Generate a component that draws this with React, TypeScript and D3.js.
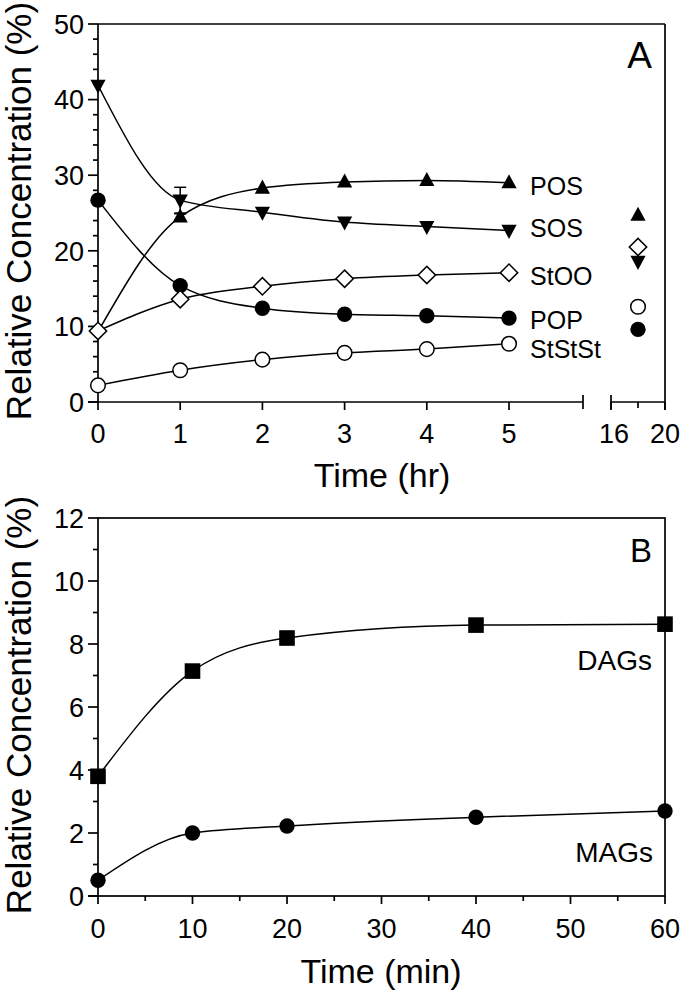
import React from "react";
import * as d3 from "d3";

// ---------- Data: Panel A (Time in hr) ----------
const hoursA = [0, 1, 2, 3, 4, 5];
const seriesNamesA = ["POS", "SOS", "StOO", "POP", "StStSt"];
const posVals = [9.3, 24.5, 28.3, 29.1, 29.3, 29.0];
const sosVals = [41.9, 26.7, 25.1, 23.8, 23.2, 22.7];
const stooVals = [9.4, 13.6, 15.3, 16.3, 16.8, 17.1];
const popVals = [26.7, 15.4, 12.4, 11.6, 11.4, 11.1];
const stststVals = [2.2, 4.2, 5.6, 6.5, 7.0, 7.7];
// error bars at 1 hr
const errHour = 1;
const posErr = 0.4;
const sosErr = 1.7;
// late sample (18 hr)
const lateHour = 18;
const lateVals = [24.7, 18.6, 20.5, 9.6, 12.6]; // POS, SOS, StOO, POP, StStSt
// series label anchors (value units)
const labelValsA = [27.4, 21.8, 15.5, 9.7, 5.8];

const yTicksA = [0, 10, 20, 30, 40, 50];
const yMinorA = [2, 4, 6, 8, 12, 14, 16, 18, 22, 24, 26, 28, 32, 34, 36, 38, 42, 44, 46, 48];
const xTicksA = [0, 1, 2, 3, 4, 5];
const xTicksA2 = [16, 20];
const xMinorA2 = [18];

// ---------- Data: Panel B (Time in min) ----------
const minutesB = [0, 10, 20, 40, 60];
const dagVals = [3.8, 7.14, 8.19, 8.6, 8.63];
const magVals = [0.5, 2.0, 2.22, 2.5, 2.7];
const labelValsB = [7.17, 1.08]; // DAGs, MAGs
const yTicksB = [0, 2, 4, 6, 8, 10, 12];
const yMinorB = [1, 3, 5, 7, 9, 11];
const xTicksB = [0, 10, 20, 30, 40, 50, 60];
const xMinorB = [5, 15, 25, 35, 45, 55];

const FONT = "'Liberation Sans', Arial, Helvetica, sans-serif";
const SW = 1.7;

// ---------- Layout ----------
const L = 98, R = 665;
const topA = 24, botA = 402;
const topB = 518, botB = 896;
const breakL = 583, breakR = 611;

const xA = d3.scaleLinear().domain([0, 5.9]).range([L, breakL]);
const xA2 = d3.scaleLinear().domain([16, 20]).range([breakR, R]);
const yA = d3.scaleLinear().domain([0, 50]).range([botA, topA]);
const xB = d3.scaleLinear().domain([0, 60]).range([L, R]);
const yB = d3.scaleLinear().domain([0, 12]).range([botB, topB]);

type MarkerKind = "up" | "down" | "diamond" | "circleFill" | "circleOpen" | "square";

const diamondPath = d3.symbol().type(d3.symbolSquare).size(150)() as string;

function Marker({ kind, x, y }: { kind: MarkerKind; x: number; y: number }) {
  const t = `translate(${x},${y})`;
  if (kind === "up") {
    return <path transform={t} d="M0,-8.5 L7.6,5.6 L-7.6,5.6 Z" fill="#000" />;
  }
  if (kind === "down") {
    return <path transform={t} d="M0,8.5 L7.6,-5.6 L-7.6,-5.6 Z" fill="#000" />;
  }
  if (kind === "diamond") {
    return (
      <path
        transform={`${t} rotate(45)`}
        d={diamondPath}
        fill="#fff"
        stroke="#000"
        strokeWidth={1.5}
      />
    );
  }
  if (kind === "circleFill") {
    return <circle cx={x} cy={y} r={7.7} fill="#000" />;
  }
  if (kind === "circleOpen") {
    return <circle cx={x} cy={y} r={7.3} fill="#fff" stroke="#000" strokeWidth={1.5} />;
  }
  return <rect x={x - 7.8} y={y - 7.8} width={15.6} height={15.6} fill="#000" />;
}

const kindsA: MarkerKind[] = ["up", "down", "diamond", "circleFill", "circleOpen"];
const valsA = [posVals, sosVals, stooVals, popVals, stststVals];

export default function App() {
  const lineA = d3
    .line<number>()
    .x((_, i) => xA(hoursA[i]))
    .y((d) => yA(d))
    .curve(d3.curveMonotoneX);
  const lineB = d3
    .line<number>()
    .x((_, i) => xB(minutesB[i]))
    .y((d) => yB(d))
    .curve(d3.curveMonotoneX);

  // draw order: POS, SOS, POP, StStSt, then StOO on top
  const drawOrder = [0, 1, 3, 4, 2];

  return (
    <div style={{ position: "absolute", left: 0, top: 0 }}>
      <svg width={685} height={995} style={{ display: "block", background: "#fff" }} fontFamily={FONT}>
        <rect width={685} height={995} fill="#fff" />

        {/* ================= PANEL A ================= */}
        <g>
          <line x1={L} y1={topA} x2={R} y2={topA} stroke="#000" strokeWidth={SW} />
          <line x1={R} y1={topA} x2={R} y2={botA + 8} stroke="#000" strokeWidth={SW} />
          <line x1={L} y1={topA} x2={L} y2={botA} stroke="#000" strokeWidth={SW} />
          <line x1={L - 10} y1={botA} x2={breakL} y2={botA} stroke="#000" strokeWidth={SW} />
          <line x1={breakR} y1={botA} x2={R} y2={botA} stroke="#000" strokeWidth={SW} />
          <line x1={breakL} y1={botA - 7} x2={breakL} y2={botA + 7} stroke="#000" strokeWidth={SW} />
          <line x1={breakR} y1={botA - 7} x2={breakR} y2={botA + 7} stroke="#000" strokeWidth={SW} />

          {yTicksA.map((v) => (
            <g key={`ya${v}`}>
              <line x1={L - 10} x2={L} y1={yA(v)} y2={yA(v)} stroke="#000" strokeWidth={SW} />
              <text x={L - 14} y={yA(v)} dy="0.36em" textAnchor="end" fontSize={27}>
                {v}
              </text>
            </g>
          ))}
          {yMinorA.map((v) => (
            <line key={`yam${v}`} x1={L - 5} x2={L} y1={yA(v)} y2={yA(v)} stroke="#000" strokeWidth={SW} />
          ))}
          {xTicksA.map((v) => (
            <g key={`xa${v}`}>
              <line x1={xA(v)} x2={xA(v)} y1={botA} y2={botA + 8} stroke="#000" strokeWidth={SW} />
              <text x={xA(v)} y={443} textAnchor="middle" fontSize={27}>
                {v}
              </text>
            </g>
          ))}
          {xTicksA2.map((v) => (
            <g key={`xa2${v}`}>
              <line x1={xA2(v)} x2={xA2(v)} y1={botA} y2={botA + 8} stroke="#000" strokeWidth={SW} />
              <text x={xA2(v) + (v === 16 ? 3 : 0)} y={443} textAnchor="middle" fontSize={27}>
                {v}
              </text>
            </g>
          ))}
          {xMinorA2.map((v) => (
            <line key={`xa2m${v}`} x1={xA2(v)} x2={xA2(v)} y1={botA} y2={botA + 6} stroke="#000" strokeWidth={SW} />
          ))}

          <text x={382} y={487} textAnchor="middle" fontSize={34}>
            Time (hr)
          </text>
          <text
            transform={`translate(31,${(topA + botA) / 2 - 2}) rotate(-90)`}
            textAnchor="middle"
            fontSize={35}
          >
            Relative Concentration (%)
          </text>
          <text x={652} y={68} textAnchor="end" fontSize={37}>
            A
          </text>

          {valsA.map((vals, i) => (
            <path key={`ca${i}`} d={lineA(vals) as string} fill="none" stroke="#000" strokeWidth={1.5} />
          ))}

          {[
            { v: sosVals[hoursA.indexOf(errHour)], e: sosErr },
            { v: posVals[hoursA.indexOf(errHour)], e: posErr },
          ].map((eb, i) => (
            <g key={`eb${i}`} stroke="#000" strokeWidth={1.5}>
              <line x1={xA(errHour)} x2={xA(errHour)} y1={yA(eb.v - eb.e)} y2={yA(eb.v + eb.e)} />
              <line x1={xA(errHour) - 6} x2={xA(errHour) + 6} y1={yA(eb.v + eb.e)} y2={yA(eb.v + eb.e)} />
              <line x1={xA(errHour) - 6} x2={xA(errHour) + 6} y1={yA(eb.v - eb.e)} y2={yA(eb.v - eb.e)} />
            </g>
          ))}

          {drawOrder.map((si) =>
            valsA[si].map((v, j) =>
              // POS 0 hr point is hidden beneath the StOO diamond
              si === 0 && j === 0 ? null : (
                <Marker key={`ma${si}-${j}`} kind={kindsA[si]} x={xA(hoursA[j])} y={yA(v)} />
              )
            )
          )}
          {lateVals.map((v, si) => (
            <Marker key={`late${si}`} kind={kindsA[si]} x={xA2(lateHour)} y={yA(v)} />
          ))}

          {seriesNamesA.map((n, i) => (
            <text key={`la${n}`} x={xA(5) + 21} y={yA(labelValsA[i])} fontSize={25}>
              {n}
            </text>
          ))}
        </g>

        {/* ================= PANEL B ================= */}
        <g>
          <rect x={L} y={topB} width={R - L} height={botB - topB} fill="none" stroke="#000" strokeWidth={SW} />
          <line x1={L - 10} y1={botB} x2={L} y2={botB} stroke="#000" strokeWidth={SW} />

          {yTicksB.map((v) => (
            <g key={`yb${v}`}>
              <line x1={L - 10} x2={L} y1={yB(v)} y2={yB(v)} stroke="#000" strokeWidth={SW} />
              <text x={L - 14} y={yB(v)} dy="0.36em" textAnchor="end" fontSize={27}>
                {v}
              </text>
            </g>
          ))}
          {yMinorB.map((v) => (
            <line key={`ybm${v}`} x1={L - 5} x2={L} y1={yB(v)} y2={yB(v)} stroke="#000" strokeWidth={SW} />
          ))}
          {xTicksB.map((v) => (
            <g key={`xb${v}`}>
              <line x1={xB(v)} x2={xB(v)} y1={botB} y2={botB + 8} stroke="#000" strokeWidth={SW} />
              <text x={xB(v)} y={938} textAnchor="middle" fontSize={27}>
                {v}
              </text>
            </g>
          ))}
          {xMinorB.map((v) => (
            <line key={`xbm${v}`} x1={xB(v)} x2={xB(v)} y1={botB} y2={botB + 5} stroke="#000" strokeWidth={SW} />
          ))}

          <text x={381} y={983} textAnchor="middle" fontSize={34}>
            Time (min)
          </text>
          <text
            transform={`translate(31,${(topB + botB) / 2 - 2}) rotate(-90)`}
            textAnchor="middle"
            fontSize={35}
          >
            Relative Concentration (%)
          </text>
          <text x={652} y={562} textAnchor="end" fontSize={33}>
            B
          </text>

          <path d={lineB(dagVals) as string} fill="none" stroke="#000" strokeWidth={1.5} />
          <path d={lineB(magVals) as string} fill="none" stroke="#000" strokeWidth={1.5} />
          {dagVals.map((v, j) => (
            <Marker key={`dag${j}`} kind="square" x={xB(minutesB[j])} y={yB(v)} />
          ))}
          {magVals.map((v, j) => (
            <Marker key={`mag${j}`} kind="circleFill" x={xB(minutesB[j])} y={yB(v)} />
          ))}

          <text x={652} y={yB(labelValsB[0])} textAnchor="end" fontSize={28}>
            DAGs
          </text>
          <text x={653} y={yB(labelValsB[1])} textAnchor="end" fontSize={28}>
            MAGs
          </text>
        </g>
      </svg>
    </div>
  );
}
